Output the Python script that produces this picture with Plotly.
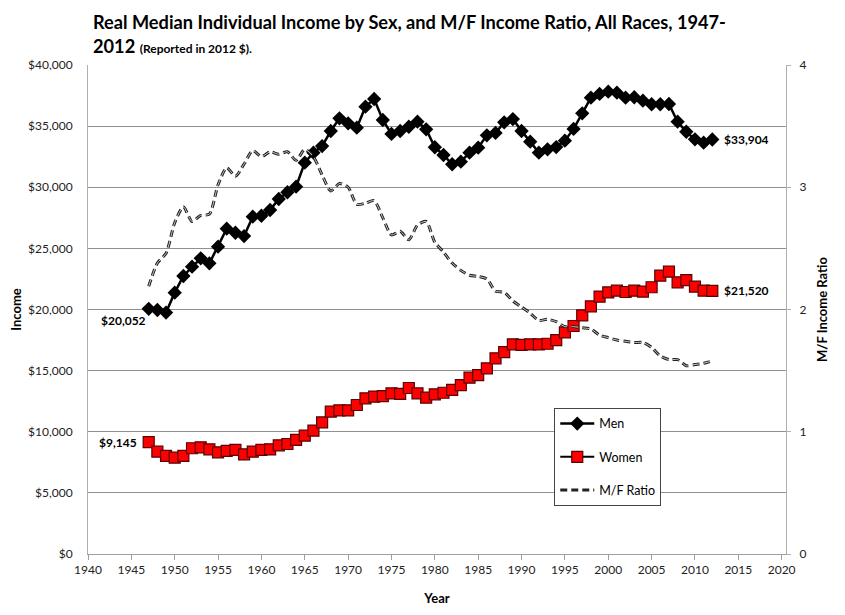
import plotly.graph_objects as go

years = list(range(1947, 2013))

# median income, men (2012 $)
men = [20052, 19960, 19750, 21380, 22740, 23500, 24190, 23780, 25140, 26610,
       26280, 26010, 27590, 27670, 28140, 29040, 29590, 30050, 32010, 32830,
       33370, 34600, 35640, 35230, 34870, 36590, 37220, 35500, 34360, 34600,
       34950, 35360, 34740, 33270, 32640, 31880, 32090, 32830, 33240, 34250,
       34440, 35310, 35580, 34600, 33730, 32830, 33100, 33290, 33810, 34770,
       36050, 37330, 37630, 37820, 37740, 37330, 37360, 37080, 36790, 36790,
       36810, 35360, 34540, 33920, 33650, 33904]

# median income, women (2012 $)
women = [9145, 8370, 8020, 7880, 8020, 8650, 8730, 8560, 8320, 8430,
         8510, 8150, 8370, 8510, 8560, 8890, 9000, 9330, 9680, 10090,
         10770, 11640, 11750, 11750, 12190, 12730, 12870, 12920, 13140, 13090,
         13580, 13140, 12790, 13060, 13190, 13420, 13820, 14420, 14640, 15190,
         16010, 16520, 17150, 17100, 17150, 17150, 17200, 17500, 18130, 18650,
         19520, 20260, 21050, 21400, 21540, 21430, 21540, 21460, 21820, 22770,
         23090, 22220, 22410, 21870, 21540, 21520]

# M/F income ratio (right axis)
ratio = [2.19, 2.38, 2.46, 2.71, 2.84, 2.72, 2.77, 2.78, 3.02, 3.16,
         3.09, 3.19, 3.30, 3.25, 3.29, 3.27, 3.29, 3.22, 3.31, 3.25,
         3.10, 2.97, 3.03, 3.00, 2.86, 2.87, 2.89, 2.75, 2.61, 2.64,
         2.57, 2.69, 2.72, 2.55, 2.47, 2.38, 2.32, 2.28, 2.27, 2.25,
         2.15, 2.14, 2.07, 2.02, 1.97, 1.91, 1.92, 1.90, 1.86, 1.86,
         1.85, 1.84, 1.79, 1.77, 1.75, 1.74, 1.73, 1.73, 1.69, 1.62,
         1.59, 1.59, 1.54, 1.55, 1.56, 1.58]

FONT = "Lato"

fig = go.Figure()
fig.add_trace(go.Scatter(
    x=years, y=men, name="Men", mode="lines+markers",
    line=dict(color="black", width=2.5),
    marker=dict(symbol="diamond", size=11, color="black"),
    legendgroup="a"))
fig.add_trace(go.Scatter(
    x=years, y=women, name="Women", mode="lines+markers",
    line=dict(color="black", width=2),
    marker=dict(symbol="square", size=11, color="#ff0000",
                line=dict(color="#5a0000", width=1.2)),
    legendgroup="b"))
fig.add_trace(go.Scatter(
    x=years, y=ratio, name="M/F Ratio", mode="lines", yaxis="y2",
    line=dict(color="#222222", width=3, dash="7px,4px", shape="spline", smoothing=0.7),
    legendgroup="c"))
fig.add_trace(go.Scatter(
    x=years, y=ratio, mode="lines", yaxis="y2", showlegend=False, hoverinfo="skip",
    line=dict(color="#c8c8c8", width=1, dash="7px,4px", shape="spline", smoothing=0.7)))

lbl = dict(showarrow=False, font=dict(family=FONT, size=12, color="black"))
fig.add_annotation(x=years[0], y=men[0], text="<b>$20,052</b>", xanchor="right",
                   yanchor="top", xshift=-1, yshift=-2, **lbl)
fig.add_annotation(x=years[0], y=women[0], text="<b>$9,145</b>", xanchor="right",
                   xshift=-10, **lbl)
fig.add_annotation(x=years[-1], y=men[-1], text="<b>$33,904</b>", xanchor="left",
                   xshift=10, **lbl)
fig.add_annotation(x=years[-1], y=women[-1], text="<b>$21,520</b>", xanchor="left",
                   xshift=10, **lbl)

# title in two lines, as in the original
fig.add_annotation(xref="paper", yref="paper", x=0.004, y=1.0, yshift=43,
                   xanchor="left", yanchor="middle", showarrow=False,
                   text="<b>Real Median Individual Income by Sex, and M/F Income Ratio, All Races, 1947-</b>",
                   font=dict(family=FONT, size=18.2, color="black"))
fig.add_annotation(xref="paper", yref="paper", x=0.004, y=1.0, yshift=19,
                   xanchor="left", yanchor="middle", showarrow=False,
                   text="<b>2012 <span style='font-size:12px'>(Reported in 2012 $).</span></b>",
                   font=dict(family=FONT, size=18.2, color="black"))

axis_font = dict(family=FONT, size=12, color="#222222")
fig.update_layout(
    width=845, height=615,
    margin=dict(l=80, r=67, t=57, b=69),
    paper_bgcolor="white", plot_bgcolor="white",
    font=dict(family=FONT, color="black"),
    showlegend=True,
    legend=dict(x=0.668, y=0.2986, xanchor="left", yanchor="top",
                bordercolor="#444444", borderwidth=1, bgcolor="white",
                font=dict(family=FONT, size=12.5), tracegroupgap=14,
                itemwidth=34),
    xaxis=dict(range=[1940, 2020.5], tick0=1940, dtick=5, showgrid=False,
               showline=True, linecolor="#a0a0a0", linewidth=1,
               ticks="outside", ticklen=5, tickcolor="#a0a0a0",
               tickfont=axis_font, automargin=False,
               title=dict(text="<b>Year</b>", font=dict(family=FONT, size=13), standoff=17),
               zeroline=False),
    yaxis=dict(range=[0, 40000], dtick=5000, tickprefix="$", tickformat=",",
               showgrid=True, gridcolor="#909090", gridwidth=1,
               showline=True, linecolor="#b0b0b0", linewidth=1,
               tickfont=axis_font, ticklabelstandoff=12, zeroline=False,
               automargin=False,
               title=dict(text="<b>Income</b>", font=dict(family=FONT, size=13), standoff=10)),
    yaxis2=dict(range=[0, 4], dtick=1, overlaying="y", side="right",
                showgrid=False, showline=True, linecolor="#b0b0b0", linewidth=1,
                ticks="outside", ticklen=4, tickcolor="#b0b0b0",
                tickfont=axis_font, ticklabelstandoff=6, zeroline=False,
                automargin=False,
                title=dict(text="<b>M/F Income Ratio</b>", font=dict(family=FONT, size=13), standoff=12)),
)

fig.write_html("out.html")
